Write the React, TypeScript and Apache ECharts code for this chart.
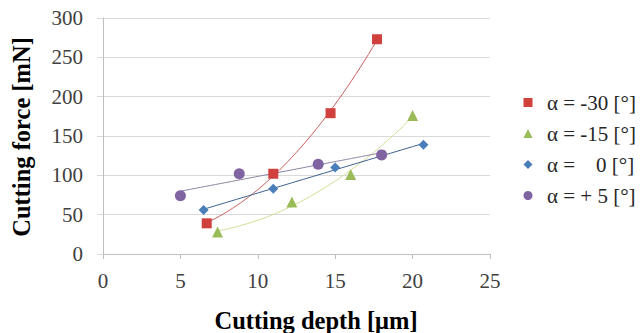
import React, { useEffect, useRef } from "react";
import * as echarts from "echarts";

const seriesNames = ["α = -30 [°]", "α = -15 [°]", "α =\u00A0\u00A0\u00A0\u00A00 [°]", "α = + 5 [°]"];
const depthM30 = [6.7, 11.0, 14.7, 17.7];
const forceM30 = [39, 102, 179, 273];
const depthM15 = [7.4, 12.2, 16.0, 20.0];
const forceM15 = [28, 66, 101, 176];
const depth0 = [6.5, 11.0, 15.0, 20.7];
const force0 = [56, 83, 110, 139];
const depthP5 = [5.0, 8.8, 13.9, 18.0];
const forceP5 = [74, 102, 114, 126];
const trendDegree = [2, 2, 1, 1];
const xTicks = [0, 5, 10, 15, 20, 25];
const yTicks = [0, 50, 100, 150, 200, 250, 300];

const markerColors = ["#D0403D", "#9BBB59", "#4A7EBB", "#8064A2"];
const lineColors = ["#C8605C", "#D3DE98", "#3E6293", "#8E84A3"];
const symbols = ["rect", "triangle", "diamond", "circle"];
const symbolSizes = [10, 11, 10, 11];

// least-squares polynomial fit (trendline, as in the source spreadsheet)
function polyfit(xs: number[], ys: number[], deg: number): number[] {
  const n = deg + 1;
  const A: number[][] = [];
  for (let r = 0; r < n; r++) {
    const row: number[] = [];
    for (let c = 0; c < n; c++) {
      let s = 0;
      for (const x of xs) s += Math.pow(x, r + c);
      row.push(s);
    }
    let b = 0;
    xs.forEach((x, i) => (b += ys[i] * Math.pow(x, r)));
    row.push(b);
    A.push(row);
  }
  for (let i = 0; i < n; i++) {
    let p = i;
    for (let k = i + 1; k < n; k++) if (Math.abs(A[k][i]) > Math.abs(A[p][i])) p = k;
    [A[i], A[p]] = [A[p], A[i]];
    for (let k = i + 1; k < n; k++) {
      const f = A[k][i] / A[i][i];
      for (let j = i; j <= n; j++) A[k][j] -= f * A[i][j];
    }
  }
  const coef = new Array(n).fill(0);
  for (let i = n - 1; i >= 0; i--) {
    let s = A[i][n];
    for (let j = i + 1; j < n; j++) s -= A[i][j] * coef[j];
    coef[i] = s / A[i][i];
  }
  return coef;
}

function trend(xs: number[], ys: number[], deg: number): number[][] {
  const c = polyfit(xs, ys, deg);
  const x0 = Math.min(...xs);
  const x1 = Math.max(...xs);
  const out: number[][] = [];
  const steps = 40;
  for (let i = 0; i <= steps; i++) {
    const x = x0 + ((x1 - x0) * i) / steps;
    let y = 0;
    c.forEach((k, p) => (y += k * Math.pow(x, p)));
    out.push([x, y]);
  }
  return out;
}

const FONT = "Liberation Serif";

export default function App() {
  const ref = useRef<HTMLDivElement>(null);
  useEffect(() => {
    if (!ref.current) return;
    const chart = echarts.init(ref.current, undefined, { renderer: "svg" });
    const xsAll = [depthM30, depthM15, depth0, depthP5];
    const ysAll = [forceM30, forceM15, force0, forceP5];
    const series: any[] = [];
    xsAll.forEach((xs, i) => {
      series.push({
        type: "line",
        name: "trend" + i,
        data: trend(xs, ysAll[i], trendDegree[i]),
        showSymbol: false,
        symbol: "none",
        lineStyle: { color: lineColors[i], width: 1 },
        z: 1,
        silent: true,
      });
    });
    xsAll.forEach((xs, i) => {
      series.push({
        type: "scatter",
        name: seriesNames[i],
        data: xs.map((x, j) => [x, ysAll[i][j]]),
        symbol: symbols[i],
        symbolSize: symbolSizes[i],
        itemStyle: { color: markerColors[i], opacity: 1 },
        z: 3,
      });
    });
    chart.setOption({
      animation: false,
      backgroundColor: "#ffffff",
      textStyle: { fontFamily: FONT },
      grid: { left: 103, right: 153, top: 18, bottom: 79 },
      legend: {
        data: seriesNames,
        orient: "vertical",
        left: 523.5,
        top: 92,
        padding: 0,
        itemWidth: 9,
        itemHeight: 9,
        itemGap: 10,
        textStyle: { fontFamily: FONT, fontSize: 21, color: "#262626", padding: [0, 0, 0, 9.5] },
      },
      xAxis: {
        type: "value",
        min: xTicks[0],
        max: xTicks[xTicks.length - 1],
        interval: 5,
        axisLine: { show: true, lineStyle: { color: "#BFBFBF", width: 1 } },
        axisTick: { show: true, length: 5, lineStyle: { color: "#BFBFBF" } },
        splitLine: { show: false },
        axisLabel: { margin: 16, fontFamily: FONT, fontSize: 21, color: "#404040" },
      },
      yAxis: {
        type: "value",
        min: yTicks[0],
        max: yTicks[yTicks.length - 1],
        interval: 50,
        axisLine: { show: true, lineStyle: { color: "#BFBFBF", width: 1 } },
        axisTick: { show: true, length: 6, lineStyle: { color: "#D9D9D9" } },
        splitLine: { show: true, lineStyle: { color: "#D9D9D9", width: 1 } },
        axisLabel: { margin: 20, fontFamily: FONT, fontSize: 21, color: "#404040" },
      },
      graphic: [
        {
          type: "text",
          x: 316,
          y: 320,
          style: {
            text: "Cutting depth [μm]",
            fontFamily: FONT,
            fontSize: 24.5,
            fontWeight: "bold",
            fill: "#000",
            align: "center",
            verticalAlign: "middle",
          },
        },
        {
          type: "text",
          x: 21,
          y: 137,
          rotation: Math.PI / 2,
          style: {
            text: "Cutting force [mN]",
            fontFamily: FONT,
            fontSize: 24.5,
            fontWeight: "bold",
            fill: "#000",
            align: "center",
            verticalAlign: "middle",
          },
        },
      ],
      series,
    });
    return () => chart.dispose();
  }, []);
  return (
    <div
      ref={ref}
      style={{ position: "absolute", left: 0, top: 0, width: 643, height: 333 }}
    />
  );
}
